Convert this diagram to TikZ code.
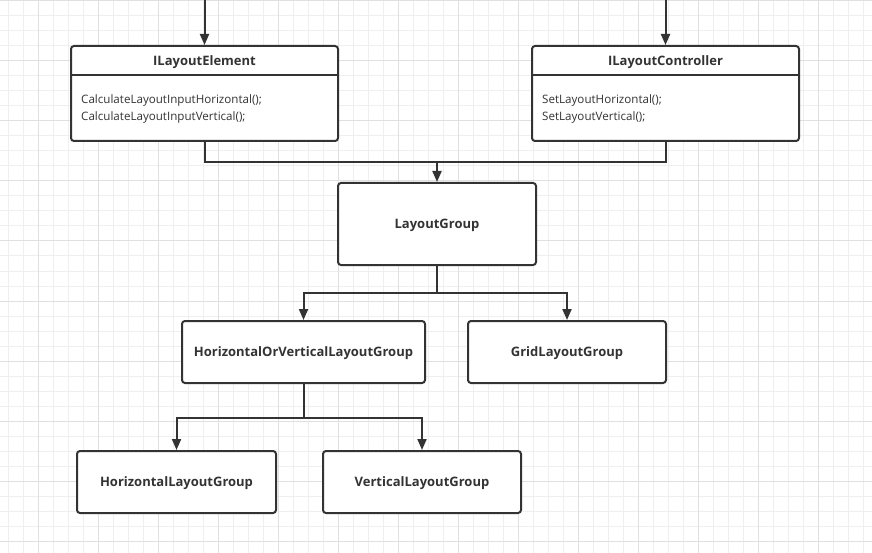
\documentclass[tikz,border=0pt]{standalone}
\usepackage{fontspec}
\setmainfont{Open Sans}
\usetikzlibrary{arrows.meta}
\definecolor{ink}{HTML}{333333}
\definecolor{gridminor}{HTML}{EFEFEF}
\definecolor{gridmajor}{HTML}{E0E0E0}
\tikzset{
  box/.style={draw=ink, line width=2pt, rounded corners=3pt, fill=white, inner sep=0pt},
  title/.style={text=ink, font=\fontsize{13}{15}\selectfont\bfseries},
  body/.style={text=ink, font=\fontsize{11.6}{16.5}\selectfont, align=left, anchor=west, inner sep=0pt},
  conn/.style={draw=ink, line width=2pt},
  arr/.style={conn, -{Triangle[length=11pt,width=9pt]}},
}
\begin{document}
\begin{tikzpicture}[x=1pt,y=-1pt]
\useasboundingbox (0,0) rectangle (872,553);
\fill[white] (0,0) rectangle (872,553);
% grid
\foreach \x in {8,23,...,872} \draw[gridminor, line width=1pt] (\x,0) -- (\x,553);
\foreach \y in {1,16,...,553} \draw[gridminor, line width=1pt] (0,\y) -- (872,\y);
\foreach \x in {38,98,...,872} \draw[gridmajor, line width=1pt] (\x,0) -- (\x,553);
\foreach \y in {1,61,...,553} \draw[gridmajor, line width=1pt] (0,\y) -- (872,\y);

% nodes
\node[box, minimum width=267pt, minimum height=95pt] (ile) at (204.5,93.5) {};
\node[title] (ilet) at (204.5,62) {ILayoutElement};
\draw[conn] (71,75.5) -- (338,75.5);
\node[body] (ileb) at (81,109) {CalculateLayoutInputHorizontal();\\CalculateLayoutInputVertical();};

\node[box, minimum width=267pt, minimum height=95pt] (ilc) at (665.5,93.5) {};
\node[title] (ilct) at (665.5,62) {ILayoutController};
\draw[conn] (532,75.5) -- (799,75.5);
\node[body] (ilcb) at (542,109) {SetLayoutHorizontal();\\SetLayoutVertical();};

\node[box, minimum width=198pt, minimum height=82pt] (lg) at (437,224) {};
\node[title] at (437,225.5) {LayoutGroup};
\node[box, minimum width=243pt, minimum height=62pt] (hov) at (303.5,352) {};
\node[title] at (303.5,353.5) {HorizontalOrVerticalLayoutGroup};
\node[box, minimum width=198pt, minimum height=62pt] (glg) at (567,352) {};
\node[title] at (567,353.5) {GridLayoutGroup};
\node[box, minimum width=199pt, minimum height=62pt] (hlg) at (176.5,482) {};
\node[title] at (176.5,483.5) {HorizontalLayoutGroup};
\node[box, minimum width=198pt, minimum height=62pt] (vlg) at (422,482) {};
\node[title] at (422,483.5) {VerticalLayoutGroup};

% connectors
\coordinate (t1) at (204.5,0);
\coordinate (t2) at (665.5,0);
\draw[arr] (t1) -- (ile.north);
\draw[arr] (t2) -- (ilc.north);

\coordinate (j1) at (437,162);
\draw[conn] (ile.south) |- (j1);
\draw[conn] (ilc.south) |- (j1);
\draw[arr] (j1) -- (lg.north);

\coordinate (j2) at (437,292.5);
\draw[conn] (lg.south) -- (j2);
\draw[arr] (j2) -| (hov.north);
\draw[arr] (j2) -| (glg.north);

\coordinate (j3) at (303.5,417.5);
\draw[conn] (hov.south) -- (j3);
\draw[arr] (j3) -| (hlg.north);
\draw[arr] (j3) -| (vlg.north);
\end{tikzpicture}
\end{document}
